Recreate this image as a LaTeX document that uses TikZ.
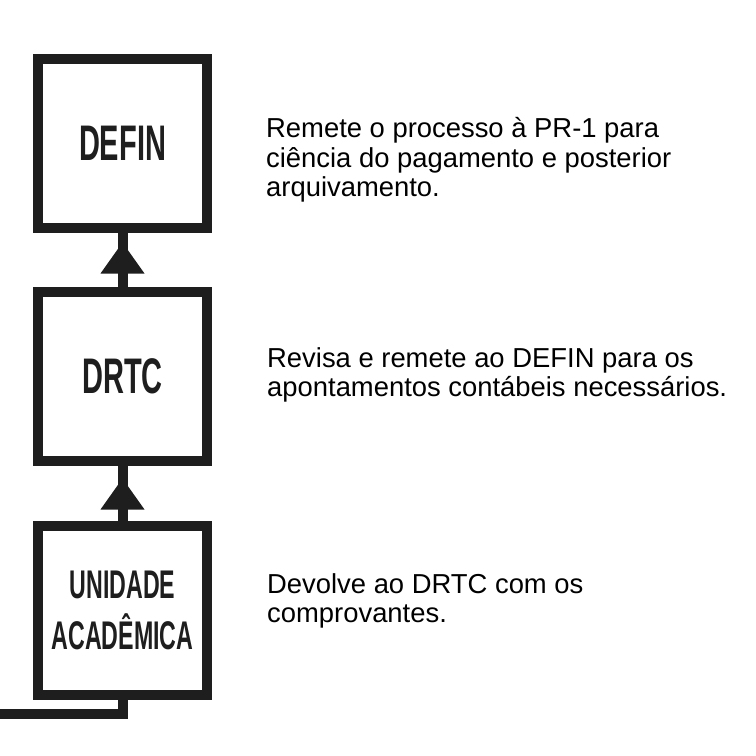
\documentclass[tikz,border=0pt]{standalone}
\usepackage{fontspec}
\setmainfont{Liberation Sans}
\newfontfamily\condfont{Liberation Sans Bold}[FakeStretch=0.58]
\usetikzlibrary{calc}
\definecolor{ink}{HTML}{1E1E1E}
\begin{document}
\begin{tikzpicture}[x=1pt,y=-1pt,
  box/.style={draw=ink, line width=10pt, minimum width=169pt, minimum height=169pt, inner sep=0pt, align=center, text=ink},
  biglabel/.style={font=\condfont\fontsize{50}{50}\selectfont},
  smalllabel/.style={font=\condfont\fontsize{40}{51}\selectfont},
  desc/.style={anchor=base west, inner sep=0pt, align=left, font=\fontsize{27.4}{29.5}\selectfont, text=black},
  conn/.style={draw=ink, line width=10pt},
  head/.style={fill=ink}]
\fill[white] (0,0) rectangle (756,756);
\useasboundingbox (0,0) rectangle (756,756);
\node[box,biglabel] (defin) at (122.5,143.5) {DEFIN};
\node[box,biglabel] (drtc) at (122.5,376) {DRTC};
\node[box,smalllabel] (unid) at (122.5,610) {UNIDADE\\ACADÊMICA};
\draw[conn] (drtc.north) -- (defin.south);
\fill[head] ($(defin.south)+(0,9.5)$) -- ++(-22,31) -- ++(44,0) -- cycle;
\draw[conn] (unid.north) -- (drtc.south);
\fill[head] ($(drtc.south)+(0,13)$) -- ++(-22,31) -- ++(44,0) -- cycle;
\coordinate (exit) at (0,714);
\draw[conn] (unid.south) |- (exit);
\node[desc] (t1) at (266,196.5) {Remete o processo à PR-1 para\\ciência do pagamento e posterior\\arquivamento.};
\node[desc] (t2) at (267,396.5) {Revisa e remete ao DEFIN para os\\apontamentos contábeis necessários.};
\node[desc] (t3) at (267,622.5) {Devolve ao DRTC com os\\comprovantes.};
\end{tikzpicture}
\end{document}
